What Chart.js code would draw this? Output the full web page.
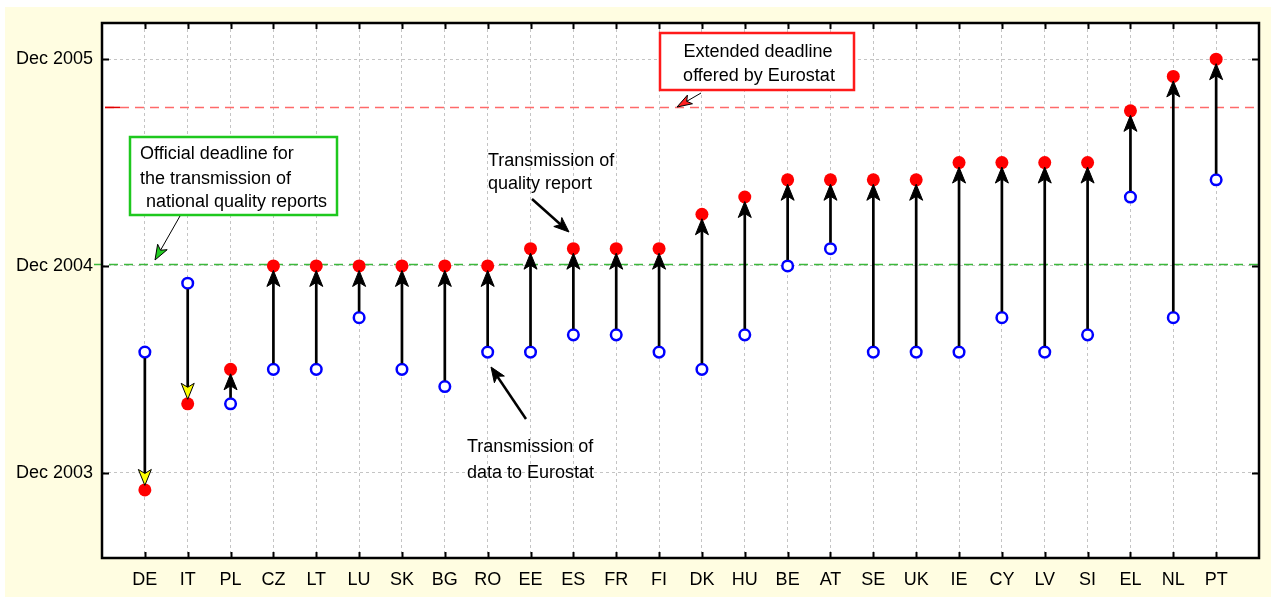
<!DOCTYPE html>
<html>
<head>
<meta charset="utf-8">
<title>Transmission of data and quality reports</title>
<script src="https://cdn.jsdelivr.net/npm/chart.js@4.4.1/dist/chart.umd.min.js"></script>
<style>
html, body { margin: 0; padding: 0; background: #ffffff; }
canvas { display: block; }
</style>
</head>
<body>
<canvas id="chart" width="1271" height="597"></canvas>
<script>
// countries in chart order
var countries = ['DE', 'IT', 'PL', 'CZ', 'LT', 'LU', 'SK', 'BG', 'RO', 'EE', 'ES', 'FR', 'FI',
                 'DK', 'HU', 'BE', 'AT', 'SE', 'UK', 'IE', 'CY', 'LV', 'SI', 'EL', 'NL', 'PT'];

// months counted from Dec 2003 (0 = Dec 2003, 12 = Dec 2004, 24 = Dec 2005)
var dataSent   = [7, 11, 4, 6, 6, 9, 6, 5, 7, 7, 8, 8, 7, 6, 8, 12, 13, 7, 7, 7, 9, 7, 8, 16, 9, 17];
var reportSent = [-1, 4, 6, 12, 12, 12, 12, 12, 12, 13, 13, 13, 13, 15, 16, 17, 17, 17, 17, 18, 18, 18, 18, 21, 23, 24];

var yTickValues = [0, 12, 24];
var yTickLabels = ['Dec 2003', 'Dec 2004', 'Dec 2005'];

var officialDeadline = 12.08;
var extendedDeadline = 21.2;

var FONT = '"Liberation Sans", Arial, sans-serif';
Chart.defaults.font.family = FONT;
Chart.defaults.font.size = 18;
Chart.defaults.color = '#000000';

// arrow head with a small notch at the back
function arrowHead(ctx, x1, y1, x2, y2, len, half, fill) {
    var ang = Math.atan2(y2 - y1, x2 - x1);
    var c = Math.cos(ang), s = Math.sin(ang);
    var bx = x2 - c * len, by = y2 - s * len;
    var nx = x2 - c * len * 0.75, ny = y2 - s * len * 0.75;
    ctx.beginPath();
    ctx.moveTo(x2, y2);
    ctx.lineTo(bx - s * half, by + c * half);
    ctx.lineTo(nx, ny);
    ctx.lineTo(bx + s * half, by - c * half);
    ctx.closePath();
    ctx.fillStyle = fill;
    ctx.fill();
    ctx.lineWidth = 1;
    ctx.strokeStyle = '#000000';
    ctx.stroke();
}

function arrow(ctx, x1, y1, x2, y2, width, len, half, fill) {
    var ang = Math.atan2(y2 - y1, x2 - x1);
    ctx.beginPath();
    ctx.moveTo(x1, y1);
    ctx.lineTo(x2 - Math.cos(ang) * len * 0.7, y2 - Math.sin(ang) * len * 0.7);
    ctx.lineWidth = width;
    ctx.strokeStyle = '#000000';
    ctx.stroke();
    arrowHead(ctx, x1, y1, x2, y2, len, half, fill);
}

var background = {
    id: 'background',
    beforeDraw: function(chart) {
        var ctx = chart.ctx, a = chart.chartArea;
        ctx.save();
        ctx.fillStyle = '#ffffff';
        ctx.fillRect(0, 0, chart.width, chart.height);
        ctx.fillStyle = '#fffde1';
        ctx.fillRect(5, 7, chart.width - 5, chart.height - 7);
        ctx.fillStyle = '#ffffff';
        ctx.fillRect(a.left, a.top, a.right - a.left, a.bottom - a.top);
        ctx.restore();
    }
};

var deadlines = {
    id: 'deadlines',
    beforeDatasetsDraw: function(chart) {
        var ctx = chart.ctx, a = chart.chartArea, y = chart.scales.y;
        ctx.save();
        ctx.lineWidth = 1.5;
        ctx.setLineDash([9, 6]);
        var gy = y.getPixelForValue(officialDeadline);
        ctx.strokeStyle = '#3cb93c';
        ctx.beginPath(); ctx.moveTo(a.left - 8, gy); ctx.lineTo(a.right, gy); ctx.stroke();
        var ry = y.getPixelForValue(extendedDeadline);
        ctx.strokeStyle = '#ff6a6a';
        ctx.beginPath(); ctx.moveTo(a.left + 3, ry); ctx.lineTo(a.right, ry); ctx.stroke();
        ctx.setLineDash([]);
        ctx.strokeStyle = '#e00000';
        ctx.beginPath(); ctx.moveTo(a.left + 3, ry); ctx.lineTo(a.left + 18, ry); ctx.stroke();
        ctx.restore();
    }
};

// arrows from data transmission to quality report
var moves = {
    id: 'moves',
    afterDatasetsDraw: function(chart) {
        var ctx = chart.ctx, xs = chart.scales.x, ys = chart.scales.y;
        ctx.save();
        for (var i = 0; i < countries.length; i++) {
            var x = xs.getPixelForValue(i);
            var y1 = ys.getPixelForValue(dataSent[i]);
            var y2 = ys.getPixelForValue(reportSent[i]);
            var dir = y2 > y1 ? 1 : -1;
            arrow(ctx, x, y1 + dir * 6, x, y2 - dir * 4.5, 2.7, 16, 6.5,
                  dir > 0 ? '#ffff00' : '#000000');
        }
        ctx.restore();
    }
};

var frame = {
    id: 'frame',
    afterDraw: function(chart) {
        var ctx = chart.ctx, a = chart.chartArea, xs = chart.scales.x, ys = chart.scales.y;
        ctx.save();
        ctx.strokeStyle = '#000000';
        ctx.lineWidth = 2;
        ctx.beginPath();
        for (var i = 0; i < countries.length; i++) {
            var x = Math.round(xs.getPixelForValue(i)) + 0.5;
            ctx.moveTo(x, a.top); ctx.lineTo(x, a.top + 6);
            ctx.moveTo(x, a.bottom); ctx.lineTo(x, a.bottom - 6);
        }
        yTickValues.forEach(function(v) {
            var y = Math.round(ys.getPixelForValue(v)) + 0.5;
            ctx.moveTo(a.left, y); ctx.lineTo(a.left + 7, y);
            ctx.moveTo(a.right, y); ctx.lineTo(a.right - 7, y);
        });
        ctx.stroke();
        ctx.lineWidth = 2.5;
        ctx.strokeRect(a.left, a.top, a.right - a.left, a.bottom - a.top);
        ctx.restore();
    }
};

var notes = {
    id: 'notes',
    afterDraw: function(chart) {
        var ctx = chart.ctx;
        ctx.save();
        ctx.font = '18px ' + FONT;
        ctx.textBaseline = 'alphabetic';

        // official deadline box
        ctx.fillStyle = '#ffffff';
        ctx.fillRect(130, 137, 207, 78);
        ctx.strokeStyle = '#1ec81e';
        ctx.lineWidth = 2.5;
        ctx.strokeRect(130, 137, 207, 78);
        ctx.fillStyle = '#000000';
        ctx.textAlign = 'left';
        ctx.fillText('Official deadline for', 140, 159);
        ctx.fillText('the transmission of', 140, 184);
        ctx.fillText(' national quality reports', 141, 207);
        arrow(ctx, 180, 216, 155, 260, 1, 15, 5.5, '#22cc22');

        // extended deadline box
        ctx.fillStyle = '#ffffff';
        ctx.fillRect(660, 33, 194, 57);
        ctx.strokeStyle = '#ff1a1a';
        ctx.lineWidth = 2.5;
        ctx.strokeRect(660, 33, 194, 57);
        ctx.fillStyle = '#000000';
        ctx.textAlign = 'center';
        ctx.fillText('Extended deadline', 758, 57);
        ctx.fillText('offered by Eurostat', 759, 81);
        arrow(ctx, 701, 93, 677, 107, 1, 15, 5, '#ff2020');

        // point labels
        ctx.fillStyle = '#000000';
        ctx.textAlign = 'left';
        ctx.fillText('Transmission of', 488, 166);
        ctx.fillText('quality report', 488, 189);
        arrow(ctx, 532, 199, 569, 232, 2.5, 15, 6, '#000000');

        ctx.fillStyle = '#000000';
        ctx.fillText('Transmission of', 467, 452);
        ctx.fillText('data to Eurostat', 467, 478);
        arrow(ctx, 526, 419, 491, 367, 2.5, 15, 6, '#000000');
        ctx.restore();
    }
};

var ctx = document.getElementById('chart').getContext('2d');

var chart = new Chart(ctx, {
    type: 'scatter',
    data: {
        datasets: [{
            label: 'Transmission of data to Eurostat',
            data: countries.map(function(c, i) { return { x: i, y: dataSent[i] }; }),
            pointStyle: 'circle',
            pointRadius: 5.3,
            pointBackgroundColor: '#ffffff',
            pointBorderColor: '#0000ff',
            pointBorderWidth: 2.5
        }, {
            label: 'Transmission of quality report',
            data: countries.map(function(c, i) { return { x: i, y: reportSent[i] }; }),
            pointStyle: 'circle',
            pointRadius: 6.5,
            pointBackgroundColor: '#ff0000',
            pointBorderWidth: 0
        }]
    },
    options: {
        responsive: false,
        animation: false,
        events: [],
        layout: { padding: { left: 0, top: 23, right: 12, bottom: 0 } },
        plugins: {
            legend: { display: false },
            tooltip: { enabled: false }
        },
        scales: {
            x: {
                type: 'linear',
                min: -1,
                max: 26,
                afterBuildTicks: function(s) {
                    s.ticks = countries.map(function(c, i) { return { value: i }; });
                },
                afterFit: function(s) { s.height = 39; },
                ticks: {
                    autoSkip: false,
                    maxRotation: 0,
                    padding: 11,
                    callback: function(v) { return countries[v]; }
                },
                grid: { color: '#c4c4c4', lineWidth: 1, drawTicks: false },
                border: { display: false, dash: [3, 3] }
            },
            y: {
                min: -4.95,
                max: 26.1,
                afterBuildTicks: function(s) {
                    s.ticks = yTickValues.map(function(v) { return { value: v }; });
                },
                afterFit: function(s) { s.width = 102; },
                ticks: {
                    padding: 9,
                    callback: function(v, i) { return yTickLabels[i]; }
                },
                grid: { color: '#c4c4c4', lineWidth: 1, drawTicks: false },
                border: { display: false, dash: [3, 3] }
            }
        }
    },
    plugins: [background, deadlines, moves, frame, notes]
});
</script>
</body>
</html>
